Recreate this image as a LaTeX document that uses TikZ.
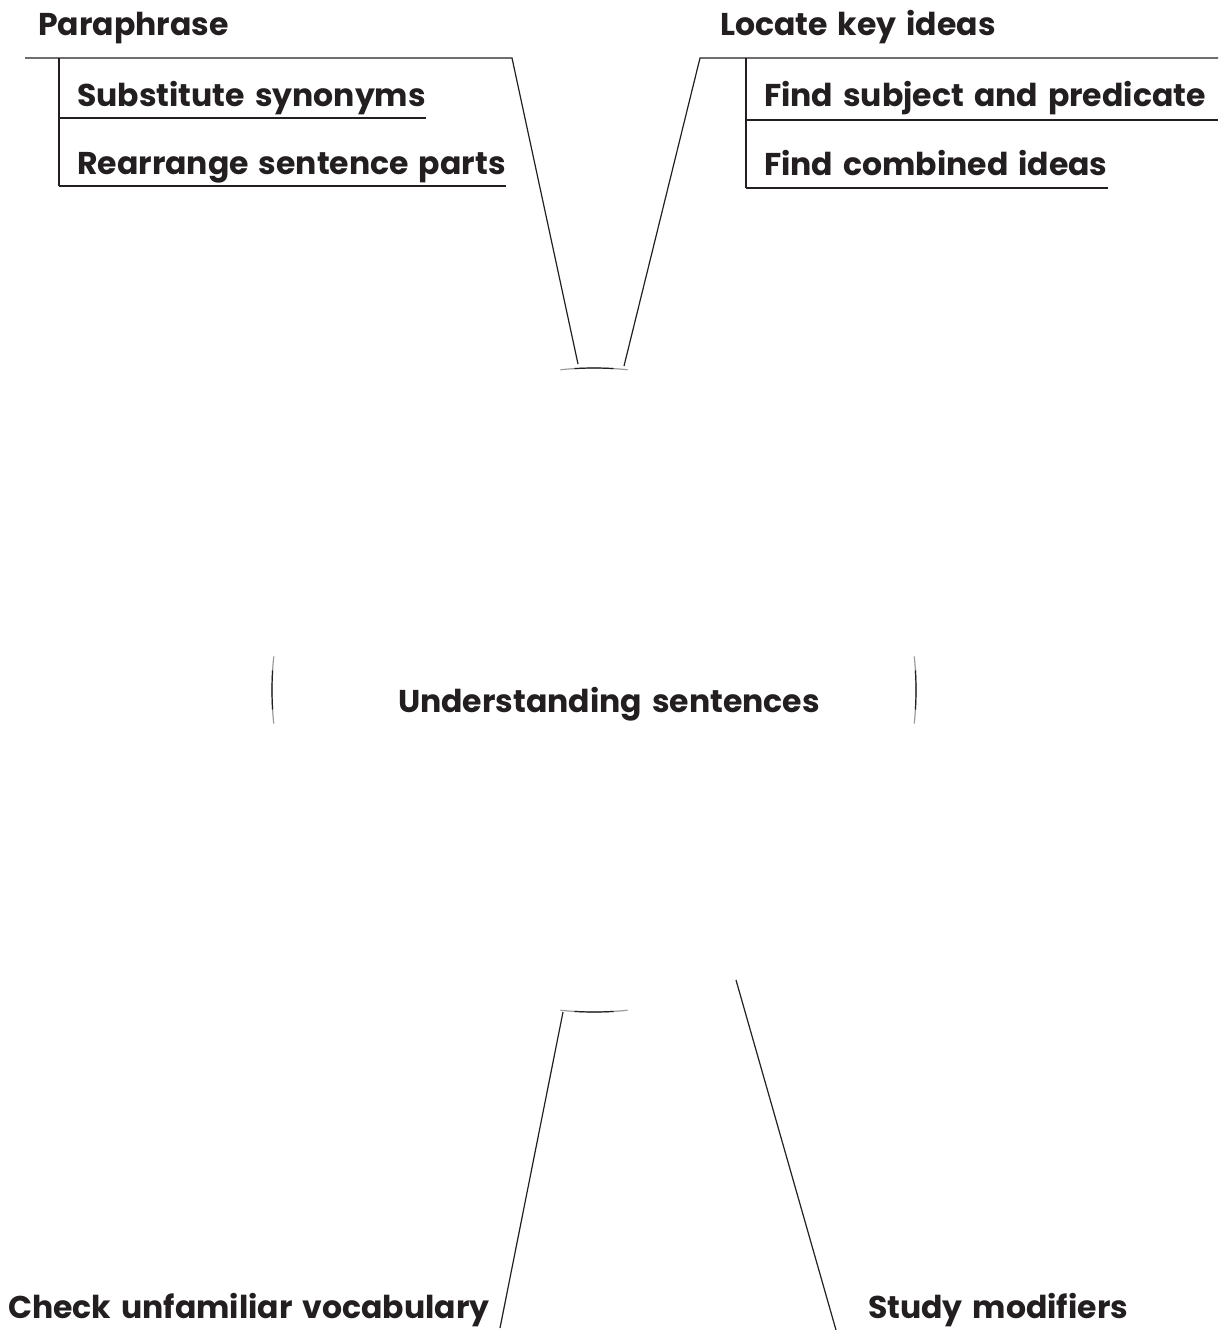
\documentclass[tikz,border=0pt]{standalone}
\usepackage{fontspec}
\setmainfont{Poppins}
\usetikzlibrary{calc}
\definecolor{ink}{HTML}{231F20}
\newcommand\lblfont{\fontsize{31.5}{34}\selectfont\bfseries\spaceskip=10pt\relax}
\begin{document}
\begin{tikzpicture}[x=1pt,y=-1pt,
  lbl/.style={anchor=base west,inner sep=0pt,text=ink,font=\lblfont},
  conn/.style={draw=ink,line width=1.2pt},
  ring/.style={draw=ink,line width=1.2pt}]
\useasboundingbox (0,0) rectangle (1218,1330);
% texts
\node[lbl] (para) at (38,36) {Paraphrase};
\node[lbl] (subst) at (77,106) {Substitute synonyms};
\node[lbl] (rearr) at (77,174) {Rearrange sentence parts};
\node[lbl] (locate) at (720,36) {Locate key ideas};
\node[lbl] (subj) at (764,106) {Find subject and predicate};
\node[lbl] (comb) at (764,175) {Find combined ideas};
\node[lbl,anchor=base] (center) at (609,712) {Understanding sentences};
\node[lbl] (vocab) at (8,1318) {Check unfamiliar vocabulary};
\node[lbl] (modif) at (868,1318) {Study modifiers};
% circle around center (only small parts visible)
\coordinate (c) at (594,690);
\foreach \a in {90,180,270,0}{
  \draw[ring,draw opacity=0.45] ($(c)+(\a-6:322)$) arc[start angle=\a-6,end angle=\a+6,radius=322];
  \draw[ring] ($(c)+(\a-3.5:322)$) arc[start angle=\a-3.5,end angle=\a+3.5,radius=322];
}
% connectors
\coordinate (tl0) at (25,58);
\coordinate (tl1) at (512,58);
\coordinate (tlend) at (578,364);
\draw[conn] (tl0) -- (tl1) -- (tlend);
\draw[conn] (59,58) -- (59,186);
\draw[conn] (59,118) -- (subst.base east |- 0,118);
\draw[conn] (59,186) -- (rearr.base east |- 0,186);
\coordinate (tr0) at (1218,58);
\coordinate (tr1) at (700,58);
\coordinate (trend) at (624,366);
\draw[conn] (tr0) -- (tr1) -- (trend);
\draw[conn] (746,58) -- (746,188);
\draw[conn] (746,120) -- (1218,120);
\draw[conn] (746,188) -- (comb.base east |- 0,188);
\coordinate (blstart) at (563,1012);
\coordinate (blend) at (500,1328);
\draw[conn] (blstart) -- (blend);
\coordinate (brstart) at (736,980);
\coordinate (brend) at (836,1330);
\draw[conn] (brstart) -- (brend);
\end{tikzpicture}
\end{document}
